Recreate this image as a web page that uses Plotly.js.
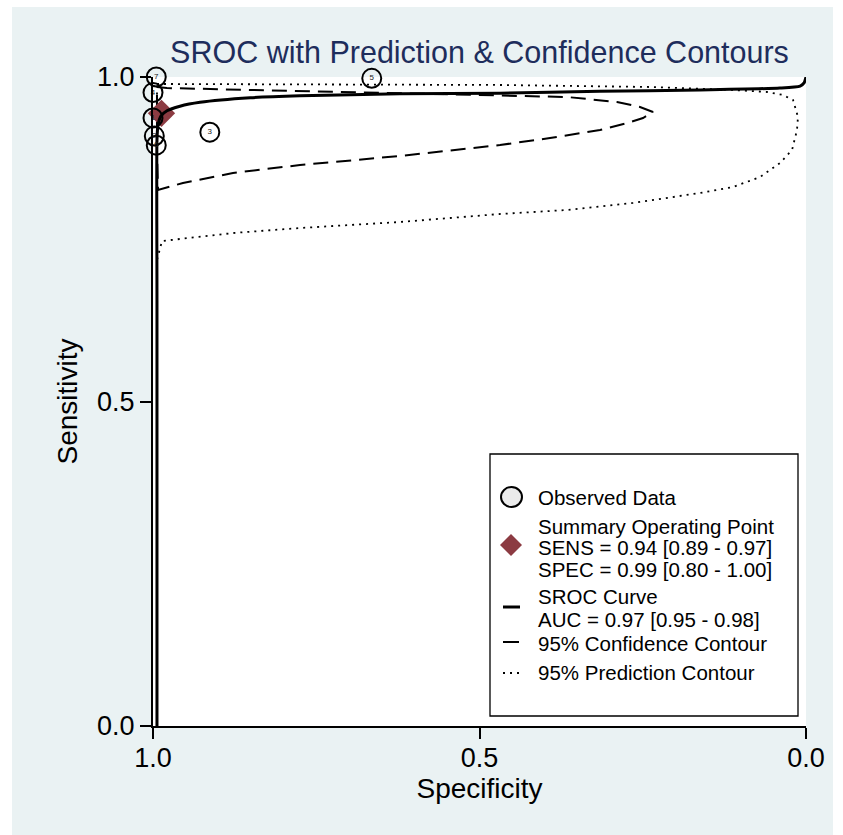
<!DOCTYPE html>
<html>
<head>
<meta charset="utf-8">
<script src="https://cdn.plot.ly/plotly-3.0.1.min.js"></script>
<style>
  html, body { margin: 0; padding: 0; background: #ffffff; }
  #chart { position: absolute; left: 12px; top: 7px; width: 821px; height: 828px; }
</style>
</head>
<body>
<div id="chart"></div>
<script>
// ---- Observed study data (specificity, sensitivity) ----
const studyLabels = ["7", "4", "1", "2", "6", "3", "5"];
const studySpec   = [0.995, 1.000, 1.000, 0.998, 0.995, 0.913, 0.665];
const studySens   = [1.000, 0.976, 0.937, 0.909, 0.895, 0.915, 0.998];

// ---- Summary operating point ----
const summarySpec = [0.987];
const summarySens = [0.944];

// ---- SROC curve ----
const srocSpec = [0.9939, 0.9939, 0.9939, 0.9923, 0.9877, 0.9786, 0.9587, 0.928, 0.851, 0.775, 0.622, 0.469, 0.316, 0.163, 0.040, 0.009, 0.003, 0.000];
const srocSens = [0.000, 0.656, 0.903, 0.926, 0.940, 0.948, 0.955, 0.961, 0.968, 0.971, 0.974, 0.975, 0.978, 0.980, 0.983, 0.986, 0.991, 1.000];

// ---- 95% confidence contour ----
const confSpec = [0.9939, 0.9786, 0.8515, 0.6983, 0.5452, 0.4686, 0.3660, 0.2894, 0.2542, 0.2343, 0.2496, 0.2741, 0.3155, 0.3920, 0.4686, 0.6217, 0.7749, 0.8775, 0.9541, 0.9923, 0.9939, 0.9939];
const confSens = [0.9846, 0.9830, 0.9800, 0.9769, 0.9730, 0.9723, 0.9692, 0.9615, 0.9538, 0.9461, 0.9368, 0.9291, 0.9183, 0.9060, 0.8952, 0.8783, 0.8644, 0.8521, 0.8367, 0.8259, 0.8875, 0.9846];

// ---- 95% prediction contour ----
const predSpec = [0.9939, 0.9770, 0.4686, 0.2389, 0.1118, 0.0597, 0.0352, 0.0199, 0.0123, 0.0138, 0.0214, 0.0398, 0.0704, 0.1118, 0.1623, 0.2649, 0.3660, 0.4686, 0.6217, 0.7749, 0.8775, 0.9862, 0.9939, 0.9939];
const predSens = [0.9892, 0.9892, 0.9877, 0.9846, 0.9800, 0.9769, 0.9723, 0.9646, 0.9384, 0.9183, 0.8875, 0.8675, 0.8459, 0.8305, 0.8213, 0.8059, 0.7951, 0.7889, 0.7766, 0.7673, 0.7596, 0.7473, 0.7180, 0.9892];

// ---- Tick labels / text ----
const tickVals = [0, 0.5, 1];
const tickText = ["0.0", "0.5", "1.0"];
const legendLines = [
  "Observed Data",
  "Summary Operating Point",
  "SENS = 0.94 [0.89 - 0.97]",
  "SPEC = 0.99 [0.80 - 1.00]",
  "SROC Curve",
  "AUC = 0.97 [0.95 - 0.98]",
  "95% Confidence Contour",
  "95% Prediction Contour"
];

// plot-area pixel frame (page coords) -> paper coords helpers (layout only)
const PL = 153, PR = 806, PT = 77, PB = 726;
const px = x => (x - PL) / (PR - PL);
const py = y => (PB - y) / (PB - PT);

const FONT = "Liberation Sans, Arial, Helvetica, sans-serif";

const traces = [
  { x: predSpec, y: predSens, mode: "lines", cliponaxis: false, hoverinfo: "skip",
    line: { color: "#000", width: 1.8, dash: "2px,5px" } },
  { x: confSpec, y: confSens, mode: "lines", cliponaxis: false, hoverinfo: "skip",
    line: { color: "#000", width: 2, dash: "15px,8px" } },
  { x: summarySpec, y: summarySens, mode: "markers", cliponaxis: false,
    marker: { symbol: "diamond", size: 21, color: "#8C3B42" } },
  { x: srocSpec, y: srocSens, mode: "lines", cliponaxis: false, hoverinfo: "skip",
    line: { color: "#000", width: 3, shape: "spline", smoothing: 0.6 } },
  { x: studySpec, y: studySens, mode: "markers+text", cliponaxis: false,
    text: studyLabels, textposition: "middle center",
    textfont: { family: FONT, size: 8, color: "#222" },
    marker: { symbol: "circle-open", size: 19, color: "#000", line: { width: 2, color: "#000" } } }
];

// custom legend
const legY = [497, 526, 547.5, 569, 596, 619, 643, 672];
const annotations = legendLines.map((t, i) => ({
  xref: "paper", yref: "paper", x: px(536), y: py(legY[i]),
  xanchor: "left", yanchor: "middle", showarrow: false, text: t,
  font: { family: FONT, size: 20.5, color: "#000" }
}));

const dcx = 511, dcy = 545, dh = 11;
const shapes = [
  { type: "rect", xref: "paper", yref: "paper", x0: px(490), x1: px(798), y0: py(716), y1: py(454),
    line: { color: "#000", width: 1.3 }, fillcolor: "#fff", layer: "below" },
  { type: "circle", xref: "paper", yref: "paper", x0: px(501), x1: px(522), y0: py(507), y1: py(487),
    line: { color: "#000", width: 2 }, fillcolor: "#EBEBEB" },
  { type: "path", xref: "paper", yref: "paper",
    path: `M ${px(dcx)},${py(dcy - dh)} L ${px(dcx + dh)},${py(dcy)} L ${px(dcx)},${py(dcy + dh)} L ${px(dcx - dh)},${py(dcy)} Z`,
    line: { width: 0 }, fillcolor: "#8C3B42" },
  { type: "line", xref: "paper", yref: "paper", x0: px(503), x1: px(520), y0: py(607), y1: py(607),
    line: { color: "#000", width: 3 } },
  { type: "line", xref: "paper", yref: "paper", x0: px(503), x1: px(519), y0: py(642), y1: py(642),
    line: { color: "#000", width: 2 } },
  { type: "line", xref: "paper", yref: "paper", x0: px(503), x1: px(519), y0: py(673), y1: py(673),
    line: { color: "#000", width: 2, dash: "2px,5px" } }
];

const layout = {
  width: 821, height: 828,
  margin: { l: 141, r: 27, t: 70, b: 109 },
  paper_bgcolor: "#EAF2F3",
  plot_bgcolor: "#FFFFFF",
  showlegend: false,
  font: { family: FONT, color: "#000" },
  title: { text: "SROC with Prediction & Confidence Contours", x: 0.5, xref: "paper", xanchor: "center",
           y: 1 - 45.5 / 828, yref: "container", yanchor: "middle",
           font: { family: FONT, size: 30.5, color: "#1E2D5C" } },
  xaxis: { range: [1, 0], tickvals: tickVals, ticktext: tickText, showgrid: false, zeroline: false,
           showline: true, linecolor: "#000", linewidth: 2, ticks: "outside", ticklen: 11, tickwidth: 2, tickcolor: "#000",
           ticklabelstandoff: -4,
           tickfont: { family: FONT, size: 27 },
           title: { text: "Specificity", standoff: 4, font: { family: FONT, size: 28 } }, fixedrange: true },
  yaxis: { range: [0, 1], tickvals: tickVals, ticktext: tickText, showgrid: false, zeroline: false,
           showline: true, linecolor: "#000", linewidth: 2, ticks: "outside", ticklen: 11, tickwidth: 2, tickcolor: "#000",
           tickfont: { family: FONT, size: 27 },
           title: { text: "Sensitivity", standoff: 11, font: { family: FONT, size: 28 } }, fixedrange: true },
  annotations: annotations,
  shapes: shapes
};

Plotly.newPlot("chart", traces, layout, { displayModeBar: false, staticPlot: true });
</script>
</body>
</html>
